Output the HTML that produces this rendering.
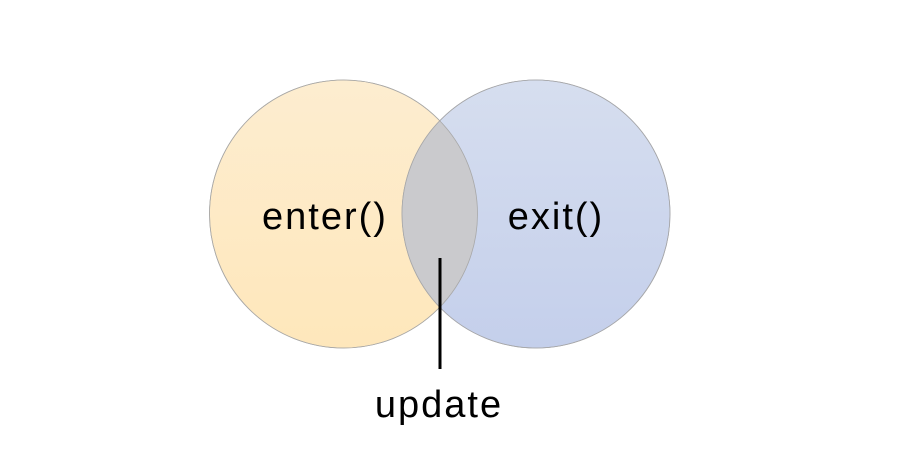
<!DOCTYPE html>
<html><head><style>body{margin:0;background:#fff}svg{display:block}</style></head><body>
<svg width="912" height="455" viewBox="0 0 912 455" xmlns="http://www.w3.org/2000/svg">
<defs>
<linearGradient id="ga" x1="0" y1="0" x2="0" y2="1"><stop offset="0" stop-color="#fdedd0"/><stop offset="1" stop-color="#fee7bb"/></linearGradient>
<linearGradient id="gb" x1="0" y1="0" x2="0" y2="1"><stop offset="0" stop-color="#d6deef"/><stop offset="1" stop-color="#c4cfeb"/></linearGradient>
<clipPath id="cl"><circle cx="343.5" cy="214" r="134"/></clipPath>
</defs>
<circle cx="343.5" cy="214" r="134" fill="url(#ga)" stroke="#b8b0a0" stroke-width="0.8"/>
<circle cx="536" cy="214" r="134" fill="url(#gb)" stroke="#a0a4b4" stroke-width="0.8"/>
<circle cx="536" cy="214" r="134" fill="#cacacd" clip-path="url(#cl)"/>
<circle cx="343.5" cy="214" r="134" fill="none" stroke="#a8a8a8" stroke-width="0.8"/>
<circle cx="536" cy="214" r="134" fill="none" stroke="#a8a8a8" stroke-width="0.8"/>
<line x1="440" y1="258" x2="440" y2="369" stroke="#000" stroke-width="3"/>
<g font-family="Liberation Sans, sans-serif" font-size="38" fill="#000" text-anchor="middle" letter-spacing="2">
<text x="325" y="229">enter()</text>
<text x="556" y="229">exit()</text>
<text x="439" y="417">update</text>
</g>
</svg>
</body></html>
